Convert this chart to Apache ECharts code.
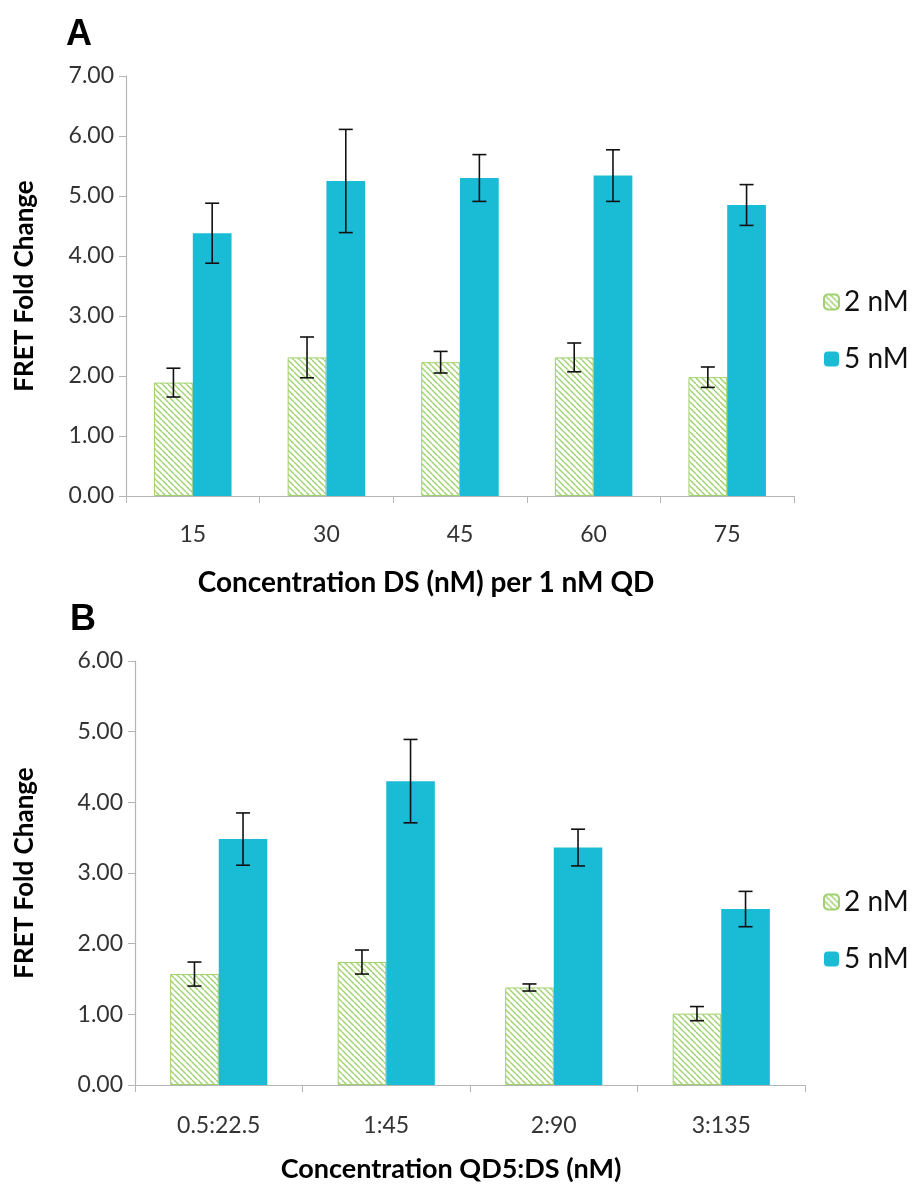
<!DOCTYPE html>
<html>
<head>
<meta charset="utf-8">
<script src="https://cdn.jsdelivr.net/npm/echarts@6/dist/echarts.min.js"></script>
<style>
  html, body { margin: 0; padding: 0; background: #fff; }
  #main { width: 920px; height: 1184px; }
</style>
</head>
<body>
<div id="main"></div>
<script>
// panel A
var catsA = ['15', '30', '45', '60', '75'];
var twoA = [1.89, 2.31, 2.23, 2.31, 1.98];
var twoErrA = [0.24, 0.34, 0.18, 0.24, 0.17];
var fiveA = [4.38, 5.25, 5.30, 5.34, 4.85];
var fiveErrA = [0.50, 0.86, 0.39, 0.43, 0.34];

// panel B
var catsB = ['0.5:22.5', '1:45', '2:90', '3:135'];
var twoB = [1.57, 1.74, 1.38, 1.01];
var twoErrB = [0.17, 0.17, 0.05, 0.10];
var fiveB = [3.48, 4.30, 3.36, 2.49];
var fiveErrB = [0.37, 0.59, 0.26, 0.25];

var FONT = 'Lato';
var GREEN = '#9fd16c';
var BLUE = '#1abcd5';
var BAR_W = 0.29;

// hatch fill for the 2 nM bars
function makeHatch() {
  var s = 6;
  var c = document.createElement('canvas');
  c.width = s; c.height = s;
  var ctx = c.getContext('2d');
  ctx.fillStyle = '#fff';
  ctx.fillRect(0, 0, s, s);
  ctx.strokeStyle = GREEN;
  ctx.lineWidth = 1.4;
  for (var k = -1; k <= 1; k++) {
    ctx.beginPath();
    ctx.moveTo(k * s, 0);
    ctx.lineTo(k * s + s, s);
    ctx.stroke();
  }
  return c;
}
var hatch = { image: makeHatch(), repeat: 'repeat' };

function errData(vals, errs) {
  return vals.map(function (v, i) { return [i, v, errs[i]]; });
}

function errRender(offset) {
  return function (params, api) {
    var i = api.value(0), v = api.value(1), e = api.value(2);
    var band = api.size([1, 0])[0];
    var cx = api.coord([i, v])[0] + offset * band;
    var top = api.coord([i, v + e])[1];
    var bot = api.coord([i, v - e])[1];
    var half = 7;
    var st = { stroke: '#111', lineWidth: 1.6 };
    return {
      type: 'group',
      children: [
        { type: 'line', shape: { x1: cx, y1: top, x2: cx, y2: bot }, style: st },
        { type: 'line', shape: { x1: cx - half, y1: top, x2: cx + half, y2: top }, style: st },
        { type: 'line', shape: { x1: cx - half, y1: bot, x2: cx + half, y2: bot }, style: st }
      ]
    };
  };
}

function xAx(cats, gi, margin) {
  return {
    type: 'category', data: cats, gridIndex: gi,
    axisLine: { lineStyle: { color: '#b5b5b5', width: 1.2 } },
    axisTick: { show: true, length: 7, lineStyle: { color: '#b5b5b5' } },
    axisLabel: { margin: margin, fontSize: 23, color: '#333', fontFamily: FONT }
  };
}
function yAx(max, gi, gap) {
  return {
    type: 'value', min: 0, max: max, interval: 1, gridIndex: gi,
    name: 'FRET Fold Change', nameLocation: 'middle', nameGap: gap,
    nameTextStyle: { fontSize: 26, fontWeight: 'bold', color: '#000', fontFamily: FONT },
    splitLine: { show: false },
    axisLine: { show: true, lineStyle: { color: '#b5b5b5', width: 1.2 } },
    axisTick: { show: true, length: 7, lineStyle: { color: '#b5b5b5' } },
    axisLabel: { margin: 12, fontSize: 23, color: '#333', fontFamily: FONT,
      formatter: function (v) { return v.toFixed(2); } }
  };
}
function legendAt(top) {
  return {
    data: ['2 nM', '5 nM'], orient: 'vertical', left: 818, top: top,
    itemWidth: 15, itemHeight: 15, itemGap: 29, selectedMode: false,
    textStyle: { fontSize: 28, color: '#111', fontFamily: FONT }
  };
}

var chart = echarts.init(document.getElementById('main'));
chart.setOption({
  animation: false,
  backgroundColor: '#fff',
  title: [
    { text: 'A', left: 61, top: 12, textStyle: { fontSize: 36, fontWeight: 'bold', color: '#000', fontFamily: 'Liberation Sans' } },
    { text: 'B', left: 65, top: 597, textStyle: { fontSize: 36, fontWeight: 'bold', color: '#000', fontFamily: 'Liberation Sans' } },
    { text: 'Concentration DS (nM) per 1 nM QD', left: 421, top: 564, textAlign: 'center',
      textStyle: { fontSize: 28, fontWeight: 'bold', color: '#000', fontFamily: FONT } },
    { text: 'Concentration QD5:DS (nM)', left: 446, top: 1151, textAlign: 'center',
      textStyle: { fontSize: 27, fontWeight: 'bold', color: '#000', fontFamily: FONT } }
  ],
  legend: [legendAt(283), legendAt(883)],
  grid: [
    { left: 126, top: 76, width: 668, height: 420 },
    { left: 135, top: 661, width: 670, height: 424 }
  ],
  xAxis: [xAx(catsA, 0, 27), xAx(catsB, 1, 29)],
  yAxis: [yAx(7, 0, 88), yAx(6, 1, 97)],
  series: [
    { name: '2 nM', type: 'bar', xAxisIndex: 0, yAxisIndex: 0, data: twoA,
      barWidth: '29%', barGap: '0%',
      itemStyle: { color: hatch, borderColor: GREEN, borderWidth: 1 } },
    { name: '5 nM', type: 'bar', xAxisIndex: 0, yAxisIndex: 0, data: fiveA,
      barWidth: '29%', barGap: '0%', itemStyle: { color: BLUE } },
    { name: '2 nM', type: 'bar', xAxisIndex: 1, yAxisIndex: 1, data: twoB,
      barWidth: '29%', barGap: '0%',
      itemStyle: { color: hatch, borderColor: GREEN, borderWidth: 1 } },
    { name: '5 nM', type: 'bar', xAxisIndex: 1, yAxisIndex: 1, data: fiveB,
      barWidth: '29%', barGap: '0%', itemStyle: { color: BLUE } },
    { type: 'custom', xAxisIndex: 0, yAxisIndex: 0, z: 5, renderItem: errRender(-BAR_W / 2), data: errData(twoA, twoErrA) },
    { type: 'custom', xAxisIndex: 0, yAxisIndex: 0, z: 5, renderItem: errRender(BAR_W / 2), data: errData(fiveA, fiveErrA) },
    { type: 'custom', xAxisIndex: 1, yAxisIndex: 1, z: 5, renderItem: errRender(-BAR_W / 2), data: errData(twoB, twoErrB) },
    { type: 'custom', xAxisIndex: 1, yAxisIndex: 1, z: 5, renderItem: errRender(BAR_W / 2), data: errData(fiveB, fiveErrB) }
  ]
});
</script>
</body>
</html>
